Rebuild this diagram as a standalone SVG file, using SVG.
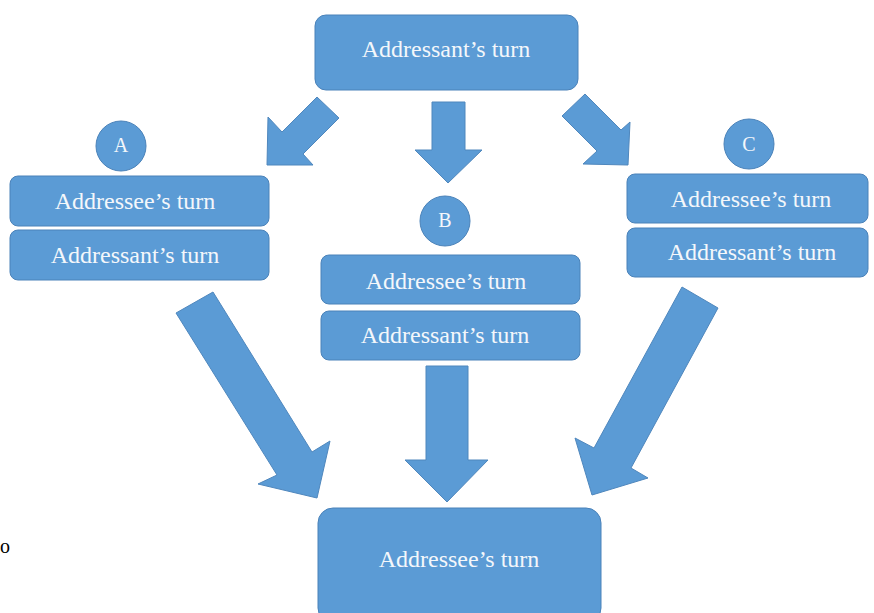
<svg xmlns="http://www.w3.org/2000/svg" width="874" height="613" viewBox="0 0 874 613">
<style>
.box{fill:#5b9bd5;stroke:#4a82b9;stroke-width:1}
.arr{fill:#5b9bd5;stroke:#4f87bd;stroke-width:1;stroke-linejoin:miter}
.t{font-family:"Liberation Serif","Times New Roman",serif;font-size:24px;fill:#f4f7fb;text-anchor:middle}
.c{font-family:"Liberation Serif","Times New Roman",serif;font-size:20px;fill:#f4f7fb;text-anchor:middle}
</style>
<rect width="874" height="613" fill="#ffffff"/>
<g id="connectors">
<polygon class="arr" points="317,97 339,118 303,154 313,165 267,165 268,117 282,132"/>
<polygon class="arr" points="432,102 465,102 465,150 482,150 448,183 415,150 432,150"/>
<polygon class="arr" points="585,94 621,130 630,122 628,165 583,164 597,151 562,116"/>
<polygon class="arr" points="213,292 312,452 330,441 317,498 258,484 277,475 176,313"/>
<polygon class="arr" points="426,366 468,366 468,460 488,460 447,502 405,460 426,460"/>
<polygon class="arr" points="682,287 718,308 631,468 648,478 592,495 575,438 594,448"/>
</g>
<g id="top">
<rect class="box" x="315" y="15" width="263" height="75" rx="11"/>
<text class="t" x="446" y="57">Addressant’s turn</text>
</g>
<g id="circleA">
<circle class="box" cx="121" cy="146" r="25"/>
<text class="c" x="121" y="152">A</text>
</g>
<g id="A1">
<rect class="box" x="10" y="176" width="259" height="50" rx="8"/>
<text class="t" x="135" y="209">Addressee’s turn</text>
</g>
<g id="A2">
<rect class="box" x="10" y="230" width="259" height="50" rx="8"/>
<text class="t" x="135" y="263">Addressant’s turn</text>
</g>
<g id="circleB">
<circle class="box" cx="445" cy="221" r="25"/>
<text class="c" x="445" y="227">B</text>
</g>
<g id="B1">
<rect class="box" x="321" y="255" width="259" height="49" rx="8"/>
<text class="t" x="446" y="289">Addressee’s turn</text>
</g>
<g id="B2">
<rect class="box" x="321" y="311" width="259" height="49" rx="8"/>
<text class="t" x="445" y="343">Addressant’s turn</text>
</g>
<g id="circleC">
<circle class="box" cx="749" cy="144" r="25"/>
<text class="c" x="749" y="151">C</text>
</g>
<g id="C1">
<rect class="box" x="627" y="174" width="241" height="49" rx="8"/>
<text class="t" x="751" y="207">Addressee’s turn</text>
</g>
<g id="C2">
<rect class="box" x="627" y="228" width="241" height="49" rx="8"/>
<text class="t" x="752" y="260">Addressant’s turn</text>
</g>
<g id="bottom">
<rect class="box" x="318" y="508" width="283" height="115" rx="15"/>
<text class="t" x="459" y="567">Addressee’s turn</text>
</g>
<text x="0" y="553" style="font-family:'Liberation Serif','Times New Roman',serif;font-size:20px;fill:#000">o</text>
</svg>
